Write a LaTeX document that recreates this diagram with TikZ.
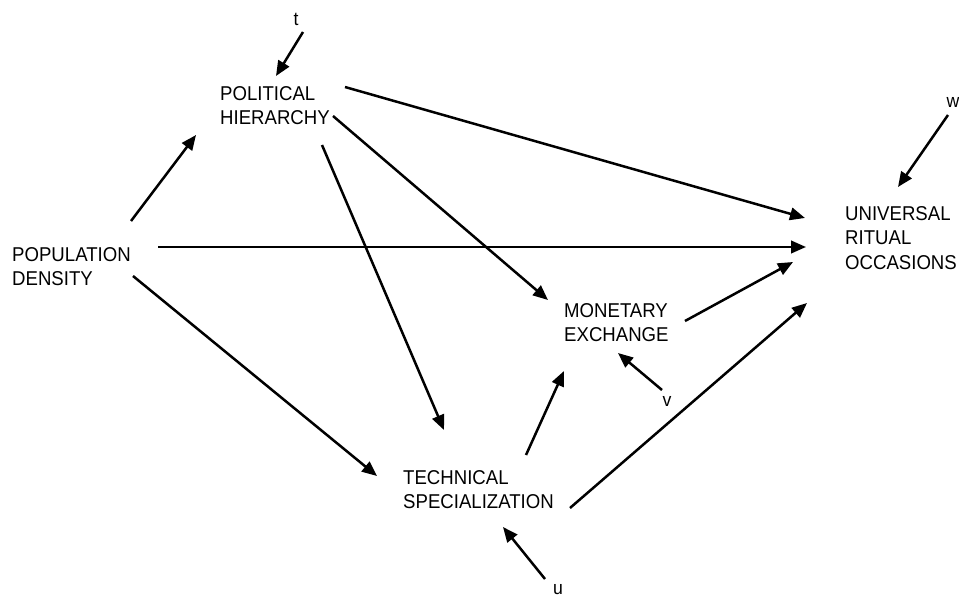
\documentclass[tikz,border=0pt]{standalone}
\usepackage{fontspec}
\setmainfont{Liberation Sans}[FakeStretch=0.93]
\usetikzlibrary{arrows.meta}
\begin{document}
\begin{tikzpicture}[x=1pt,y=-1pt,
  lbl/.style={anchor=north west, inner sep=0pt, align=left, font=\fontsize{20}{24.5}\selectfont},
  var/.style={anchor=base, inner sep=0pt, font=\fontsize{19}{19}\selectfont},
  arr/.style={line width=2.5pt, -{Triangle[length=15pt,width=12.5pt]}}]
\useasboundingbox (0,0) rectangle (959,599);
% variables
\node[lbl] (pop)  at (12,247)  {POPULATION\\DENSITY};
\node[lbl] (pol)  at (220,86)  {POLITICAL\\HIERARCHY};
\node[lbl] (uro)  at (845,206) {UNIVERSAL\\RITUAL\\OCCASIONS};
\node[lbl] (mon)  at (564,303) {MONETARY\\EXCHANGE};
\node[lbl] (tech) at (403,470) {TECHNICAL\\SPECIALIZATION};
% residuals
\node[var] (t) at (296,26)  {t};
\node[var] (w) at (953,108) {w};
\node[var] (v) at (667,406) {v};
\node[var] (u) at (558,594) {u};
% paths
\draw[arr] ([shift={(119,-26)}]pop.north west) -- ([shift={(-24,49)}]pol.north west);
\draw[arr] ([shift={(7,6)}]t.base) -- ([shift={(56,-10)}]pol.north west);
\draw[arr] ([shift={(125,1)}]pol.north west) -- ([shift={(-40,12)}]uro.north west);
\draw[arr] ([shift={(113,30)}]pol.north west) -- ([shift={(-16,-3)}]mon.north west);
\draw[arr] ([shift={(102,59)}]pol.north west) -- ([shift={(41,-40)}]tech.north west);
\draw[arr] ([shift={(146,0)}]pop.north west) -- ([shift={(-39,41)}]uro.north west);
\draw[arr] ([shift={(121,29)}]pop.north west) -- ([shift={(-26,6)}]tech.north west);
\draw[arr] ([shift={(123,-15)}]tech.north west) -- ([shift={(0,68)}]mon.north west);
\draw[arr] ([shift={(121,18)}]mon.north west) -- ([shift={(-52,56)}]uro.north west);
\draw[arr] ([shift={(167,38)}]tech.north west) -- ([shift={(-38,97)}]uro.north west);
\draw[arr] ([shift={(-5,7)}]w.base) -- ([shift={(53,-19)}]uro.north west);
\draw[arr] ([shift={(-5,-16)}]v.base) -- ([shift={(54,50)}]mon.north west);
\draw[arr] ([shift={(-13,-15)}]u.base) -- ([shift={(100,57)}]tech.north west);
\end{tikzpicture}
\end{document}
